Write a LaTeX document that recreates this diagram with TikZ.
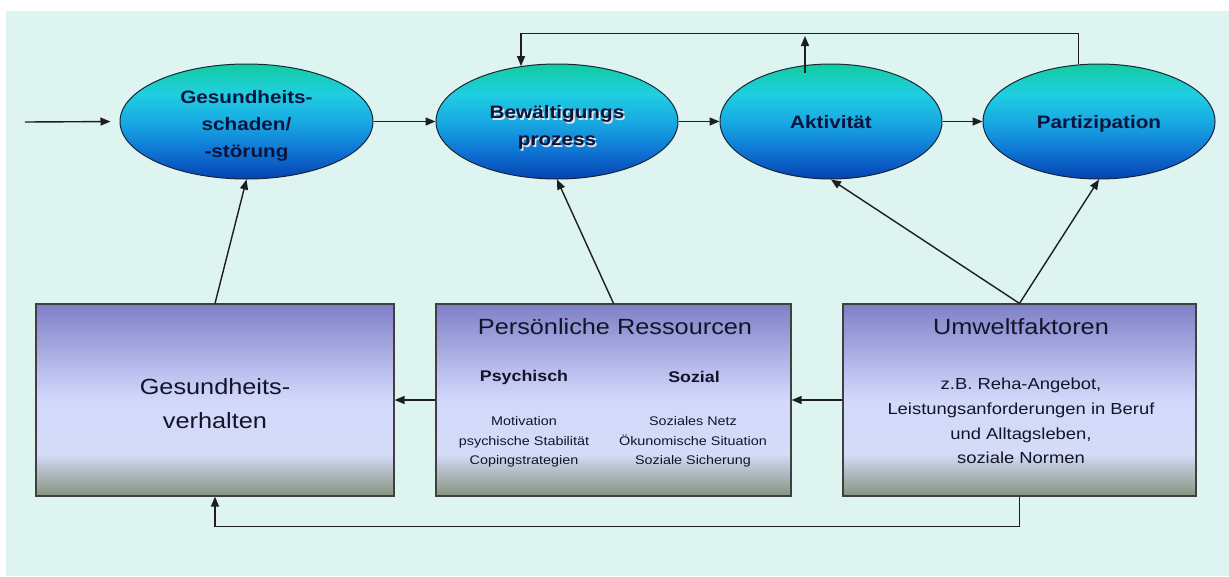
\documentclass[tikz,border=0pt]{standalone}
\usepackage{fontspec}
\setmainfont{Liberation Sans}[FakeStretch=1.15]
\usetikzlibrary{shapes.geometric,arrows.meta,calc}
\definecolor{bgcol}{RGB}{221,244,240}
\definecolor{ellT}{RGB}{18,204,158}
\definecolor{ellE}{RGB}{32,206,226}
\definecolor{ellD}{RGB}{24,170,226}
\definecolor{ellC}{RGB}{14,116,212}
\definecolor{ellB}{RGB}{6,66,176}
\definecolor{boxT}{RGB}{126,128,198}
\definecolor{boxU}{RGB}{186,191,238}
\definecolor{boxM}{RGB}{210,216,250}
\definecolor{boxL}{RGB}{212,220,248}
\definecolor{boxK}{RGB}{176,186,192}
\definecolor{boxB}{RGB}{134,148,128}
\definecolor{etxt}{RGB}{10,20,60}
\definecolor{btxt}{RGB}{20,20,40}
\definecolor{lncol}{RGB}{30,30,30}
\pgfdeclareverticalshading{ellgrad}{100bp}{color(0bp)=(ellB); color(25bp)=(ellB); color(37bp)=(ellC); color(50bp)=(ellD); color(62bp)=(ellE); color(75bp)=(ellT); color(100bp)=(ellT)}
\pgfdeclareverticalshading{boxgrad}{100bp}{color(0bp)=(boxB); color(25bp)=(boxB); color(31bp)=(boxK); color(36bp)=(boxL); color(50bp)=(boxM); color(57.5bp)=(boxU); color(75bp)=(boxT); color(100bp)=(boxT)}
\newcommand\shline[1]{\makebox[0pt][l]{\kern1.6pt\raisebox{-1.6pt}{\color{white!80!gray}#1}}#1}
\newcommand\lowtxt[2]{\raisebox{-#1}[\height][\depth]{\begin{tabular}{@{}c@{}}#2\end{tabular}}}
\tikzset{
  ell/.style={ellipse, draw=lncol!80!ellB, line width=1pt, shade, shading=ellgrad, inner sep=0pt,
    text=etxt, font=\fontsize{18}{27}\selectfont\bfseries},
  box/.style={rectangle, draw=lncol!85, line width=1.2pt, shade, shading=boxgrad, inner sep=0pt,
    text=btxt},
  bigtxt/.style={text=btxt, inner sep=0pt, align=center, font=\fontsize{22}{34}\selectfont},
  midtxt/.style={text=btxt, inner sep=0pt, font=\fontsize{15.5}{19}\selectfont\bfseries},
  smalltxt/.style={text=btxt, inner sep=0pt, align=center, font=\fontsize{12.5}{19.5}\selectfont},
  umtxt/.style={text=btxt, inner sep=0pt, align=center, font=\fontsize{16}{24.7}\selectfont},
  arr/.style={draw=lncol, line width=1.4pt, -{Triangle[length=10pt,width=8pt]}},
  ln/.style={draw=lncol, line width=1.4pt}
}
\begin{document}
\begin{tikzpicture}[x=1pt,y=-1pt]
\fill[white] (0,0) rectangle (1229,576);
\useasboundingbox (0,0) rectangle (1229,576);
\fill[bgcol] (6,11) rectangle (1229,576);

% ellipses
\node[ell, minimum width=253pt, minimum height=115pt] (e1) at (246.5,121.5) {\lowtxt{3.5pt}{Gesundheits-\\schaden/\\-störung}};
\node[ell, minimum width=242pt, minimum height=115pt] (e2) at (557,121.5) {\lowtxt{5pt}{\shline{Bewältigungs}\\\shline{prozess}}};
\node[ell, minimum width=222pt, minimum height=115pt] (e3) at (831,121.5) {\lowtxt{2pt}{Aktivität}};
\node[ell, minimum width=232pt, minimum height=115pt] (e4) at (1099,121.5) {\lowtxt{2pt}{Partizipation}};

% boxes
\node[box, minimum width=358pt, minimum height=192pt, font=\fontsize{22}{34}\selectfont] (b1) at (215,400) {\lowtxt{5pt}{Gesundheits-\\verhalten}};
\node[box, minimum width=355pt, minimum height=192pt] (b2) at (613.5,400) {};
\node[box, minimum width=353pt, minimum height=192pt] (b3) at (1019.5,400) {};

% box texts
\node[bigtxt] (prt) at (615,327) {Persönliche Ressourcen};
\node[midtxt] (psy) at (524,377) {Psychisch};
\node[midtxt] (soz) at (694,377) {Sozial};
\node[smalltxt] (psyl) at (524,442) {Motivation\\psychische Stabilität\\Copingstrategien};
\node[smalltxt] (sozl) at (693,442) {Soziales Netz\\Ökunomische Situation\\Soziale Sicherung};
\node[bigtxt] (uwt) at (1021,327) {Umweltfaktoren};
\node[umtxt] (uwl) at (1021,421) {z.B. Reha-Angebot,\\Leistungsanforderungen in Beruf\\und Alltagsleben,\\soziale Normen};

% connectors top row
\coordinate (in) at (25,122);
\draw[arr, shorten >=9pt] (in) -- (e1.west);
\draw[arr] (e1.east) -- (e2.west);
\draw[arr] (e2.east) -- (e3.west);
\draw[arr] (e3.east) -- (e4.west);
\draw[arr] (e4.110) -- ++(0,-31) -| (e2.123);
\coordinate (aup) at (805,36);
\draw[arr] ($(aup |- e3.north)+(0,9)$) -- (aup);

% connectors from boxes
\draw[arr] (b1.north) -- (e1.south);
\draw[arr] (b2.north) -- (e2.south);
\draw[arr] (b3.north) -- (e3.south);
\draw[arr] (b3.north) -- (e4.south);
\draw[arr] (b2.west) -- (b1.east);
\draw[arr] (b3.west) -- (b2.east);
\draw[arr] (b3.south) -- ++(0,30) -| (b1.south);
\end{tikzpicture}
\end{document}
